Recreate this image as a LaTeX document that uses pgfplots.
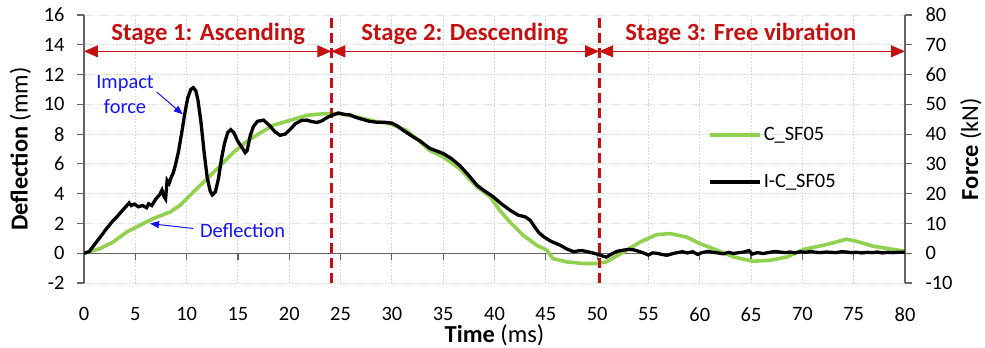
\documentclass[border=0pt]{standalone}
\usepackage{fontspec}
\setmainfont{Carlito}
\usepackage{pgfplots}
\pgfplotsset{compat=1.18}
\usetikzlibrary{arrows.meta}

\definecolor{defl}{RGB}{146,208,80}
\definecolor{stagered}{RGB}{196,16,16}
\definecolor{gridgray}{RGB}{215,215,215}
\definecolor{axisgray}{RGB}{100,100,100}
\definecolor{annblue}{RGB}{20,20,245}

% Mid-span deflection (mm)
\pgfplotstableread{
t d
0.0 0.00
1.56 0.31
2.86 0.76
4.16 1.43
5.46 1.88
6.75 2.33
8.4 2.77
9.36 3.22
10.65 4.11
12.0 5.00
13.3 5.90
14.6 6.80
16.0 7.58
16.5 7.80
18.45 8.60
20.1 8.93
21.7 9.26
23.3 9.37
24.9 9.37
26.6 9.15
28.2 8.88
29.8 8.70
31.4 8.26
32.4 7.70
33.7 6.90
35.0 6.47
36.6 5.68
38.3 4.45
39.6 3.78
40.5 2.89
41.5 2.10
42.8 1.20
44.1 0.54
45.1 0.20
45.7 -0.36
47.0 -0.58
48.7 -0.69
50.0 -0.69
50.9 -0.58
52.6 0.09
54.2 0.76
55.8 1.25
57.1 1.32
58.7 1.09
60.0 0.65
61.7 0.20
63.3 -0.25
65.2 -0.54
66.9 -0.47
68.5 -0.25
70.1 0.25
72.1 0.54
74.3 0.94
75.3 0.80
76.9 0.47
80.0 0.13
}\deflection

% Impact force (kN)
\pgfplotstableread{
t f
0 0
0.5 0.5
1.0 2.8
1.6 5.5
2.2 8.3
2.8 10.8
3.2 12.2
3.7 14.2
4.2 16.1
4.4 16.9
4.6 16.0
4.9 16.5
5.3 15.6
5.7 16.0
6.1 15.3
6.3 16.6
6.6 16.0
7.0 18.2
7.4 19.8
7.6 21.2
7.8 19.0
7.95 18.2
8.1 24.5
8.3 23.5
8.5 25.5
8.7 27.0
8.9 29.5
9.2 34.0
9.5 40.0
9.8 46.5
10.1 52.0
10.4 55.0
10.65 55.6
10.9 54.5
11.1 51.5
11.4 44.0
11.7 34.0
12.0 25.5
12.3 20.8
12.5 19.6
12.8 20.6
13.1 25.0
13.4 31.8
13.7 37.0
14.0 40.5
14.3 41.5
14.6 40.5
15.0 37.5
15.4 35.5
15.7 33.8
15.9 34.5
16.2 39.5
16.5 42.5
16.9 44.3
17.5 44.7
18.1 42.8
18.6 40.8
19.1 39.6
19.6 40.0
20.1 41.6
20.6 43.5
21.2 44.6
21.7 44.7
22.2 44.2
22.7 43.9
23.2 44.5
23.7 45.6
24.3 46.5
24.8 47.1
25.4 46.6
25.9 46.5
26.5 45.6
27.2 44.9
27.8 44.3
28.5 44.0
29.2 44.0
30.0 43.7
30.5 42.8
31.1 41.3
32.1 39.0
32.7 37.8
33.7 35.2
35.0 33.5
35.8 31.8
36.6 29.5
37.4 26.5
38.3 22.8
39.0 21.0
39.9 18.9
40.7 16.5
41.5 14.5
42.3 12.8
43.0 12.2
43.5 11.0
43.8 9.4
44.3 7.0
44.8 5.5
45.5 4.0
46.4 2.7
47.0 1.5
47.7 0.5
48.2 0.8
48.5 0.9
49.2 0.4
50.0 -0.3
50.5 -0.9
50.9 -1.3
51.4 -0.3
51.9 0.6
52.5 1.0
53.1 1.3
53.6 1.1
54.0 0.7
54.5 0.1
55.0 -0.6
55.4 0.1
55.8 0.0
56.3 -0.4
56.8 -0.7
57.3 -0.2
57.8 0.2
58.3 0.5
58.8 0.1
59.3 0.5
59.8 -0.4
60.2 0.2
60.8 0.6
61.3 0.3
61.8 0.1
62.3 -0.2
62.8 0.3
63.3 -0.1
63.8 0.2
64.3 0.4
64.8 0.9
65.1 -0.3
65.6 0.2
66.2 -0.1
66.8 0.3
67.3 0.6
67.8 0.4
68.3 0.2
68.8 0.4
69.3 0.1
69.8 0.5
70.3 0.3
70.8 0.6
71.3 0.3
71.8 0.2
72.3 0.4
72.8 0.3
73.3 0.2
73.8 0.5
74.3 0.4
74.8 0.2
75.3 0.3
75.8 0.1
76.3 0.3
76.8 0.2
77.3 0.4
77.8 0.1
78.3 0.3
78.8 0.2
79.3 0.3
80.0 0.3
}\impactforce

\pgfplotsset{
  common/.style={
    scale only axis, width=821bp, height=268bp,
    xmin=0, xmax=80,
    /pgf/number format/assume math mode=true,
    tick label style={font=\fontsize{20.5}{24}\selectfont},
    label style={font=\fontsize{24.5}{28}\selectfont},
    tick align=outside,
    major tick length=7bp,
    tick style={axisgray, line width=1.2bp},
  }
}

\begin{document}
\begin{tikzpicture}
\path[use as bounding box] (-84bp,-65bp) rectangle (901bp,283bp);

\begin{axis}[common,
  ymin=-2, ymax=16, ytick={-2,0,...,16}, xtick={0,5,...,80},
  axis y line*=left, axis x line*=bottom,
  x axis line style={draw=none},
  y axis line style={axisgray, line width=1.3bp},
  xtick style={draw=none},
  xticklabel style={yshift=-14bp},
  yticklabel style={xshift=-9bp},
  grid=major,
  grid style={gridgray, dash pattern=on 1.6bp off 1.6bp, line width=0.9bp},
  xlabel={\textbf{Time} (ms)},
  xlabel style={yshift=4bp},
  ylabel={\textbf{Deflection} (mm)},
  ylabel style={yshift=6bp},
  clip=false,
]
  % zero line with downward ticks
  \draw[axisgray, line width=1.3bp] (axis cs:0,0) -- (axis cs:80,0);
  \pgfplotsinvokeforeach{0,5,...,80}{
    \draw[axisgray, line width=1.2bp] (axis cs:#1,0) -- ([yshift=-7bp]axis cs:#1,0);
  }
  \addplot[defl, line width=3.6bp] table[x=t, y=d] {\deflection};

  % stage boundaries
  \draw[stagered, line width=2.8bp, dash pattern=on 10bp off 5bp]
    (axis cs:24.1,-2) -- (axis cs:24.1,16);
  \draw[stagered, line width=2.8bp, dash pattern=on 10bp off 5bp]
    (axis cs:50.2,-2) -- (axis cs:50.2,16);

  % stage arrows and titles
  \tikzset{stagearrow/.style={stagered, line width=1.1bp,
    {Triangle[length=14bp,width=12bp]}-{Triangle[length=14bp,width=12bp]}}}
  \draw[stagearrow] (axis cs:0,13.56) -- (axis cs:24.1,13.56);
  \draw[stagearrow] (axis cs:24.1,13.56) -- (axis cs:50.2,13.56);
  \draw[stagearrow] (axis cs:50.2,13.56) -- (axis cs:80,13.56);
  \tikzset{stagetext/.style={stagered, font=\bfseries\fontsize{24.8}{28}\selectfont}}
  \node[stagetext] at (axis cs:12.1,14.72) {Stage 1: Ascending};
  \node[stagetext] at (axis cs:37.1,14.72) {Stage 2: Descending};
  \node[stagetext] at (axis cs:64.0,14.72) {Stage 3: Free vibration};

  % curve callouts
  \node[annblue, align=center, font=\fontsize{20.5}{25}\selectfont]
    at (axis cs:4.0,10.67) {Impact\\force};
  \draw[annblue, line width=1bp, -{Triangle[length=9bp,width=7bp]}]
    (axis cs:7.08,10.83) -- (axis cs:9.62,9.33);
  \node[annblue, font=\fontsize{20.5}{25}\selectfont]
    at (axis cs:15.45,1.54) {Deflection};
  \draw[annblue, line width=1bp, -{Triangle[length=9bp,width=7bp]}]
    (axis cs:10.65,1.66) -- (axis cs:6.43,1.99);
\end{axis}

\begin{axis}[common,
  ymin=-10, ymax=80, ytick={-10,0,...,80},
  axis y line*=right, axis x line=none,
  y axis line style={axisgray, line width=1.3bp},
  yticklabel style={xshift=10bp},
  ylabel={\textbf{Force} (kN)},
  ylabel style={yshift=-1bp},
  legend cell align=left,
  legend image code/.code={\draw[#1] (0bp,0bp) -- (50bp,0bp);},
  legend style={draw=none, fill=none, at={(axis description cs:0.76,0.4646)},
    anchor=west, inner sep=0pt, row sep=28bp,
    nodes={inner xsep=2bp, inner ysep=2bp},
    font=\fontsize{20.5}{24}\selectfont},
]
  \addlegendimage{defl, line width=3.6bp}
  \addlegendentry{C\_SF05}
  \addplot[black, line width=3.3bp] table[x=t, y=f] {\impactforce};
  \addlegendentry{I-C\_SF05}
\end{axis}
\end{tikzpicture}
\end{document}
